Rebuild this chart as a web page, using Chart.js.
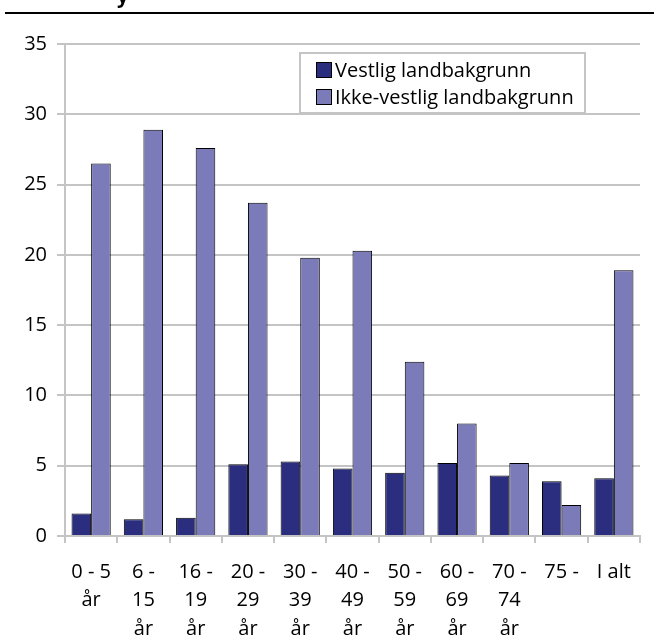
<!DOCTYPE html>
<html>
<head>
<meta charset="utf-8">
<script src="https://cdn.jsdelivr.net/npm/chart.js@4"></script>
<style>
  body{margin:0;background:#fff;width:654px;height:639px;overflow:hidden;position:relative;font-family:"Open Sans",sans-serif}
  #wrap{position:absolute;left:0;top:0;width:654px;height:639px}
  #rule{position:absolute;left:5px;right:0;top:12px;height:2px;background:#000}
  #cut{position:absolute;left:117px;top:-18px;height:20px;line-height:20px;font:bold 20px "Open Sans",sans-serif;color:#000}
</style>
</head>
<body>
<div id="wrap"><canvas id="myChart" width="654" height="639"></canvas></div>
<div id="cut">y</div>
<div id="rule"></div>
<script>
// age groups (multi-line labels as in the original)
const labels=[
  ["0 - 5","år"],
  ["6 -","15","år"],
  ["16 -","19","år"],
  ["20 -","29","år"],
  ["30 -","39","år"],
  ["40 -","49","år"],
  ["50 -","59","år"],
  ["60 -","69","år"],
  ["70 -","74","år"],
  ["75 -"],
  ["I alt"]
]
const vestlig=[1.6,1.2,1.3,5.1,5.3,4.8,4.5,5.2,4.3,3.9,4.1]
const ikkeVestlig=[26.5,28.9,27.6,23.7,19.8,20.3,12.4,8.0,5.2,2.2,18.9]
const seriesNames=["Vestlig landbakgrunn","Ikke-vestlig landbakgrunn"]
const yTicks=[0,5,10,15,20,25,30,35]

const FONT='"Open Sans", sans-serif'
const grey='#c4c4c4'

// legend drawn in a box inside the plot, like the excel original
const boxLegend={
  id:'boxLegend',
  afterDraw(chart){
    const ctx=chart.ctx
    const x=300,y=53,w=285,h=60
    ctx.save()
    ctx.fillStyle='#fff'
    ctx.fillRect(x,y,w,h)
    ctx.strokeStyle=grey
    ctx.lineWidth=2
    ctx.strokeRect(x,y,w,h)
    ctx.font='20px '+FONT
    ctx.textBaseline='middle'
    chart.data.datasets.forEach((ds,i)=>{
      const cy=y+17+i*27
      ctx.fillStyle=ds.backgroundColor
      ctx.fillRect(316.5,cy-7.5,15,15)
      ctx.strokeStyle='#000'
      ctx.lineWidth=1
      ctx.strokeRect(316.5,cy-7.5,15,15)
      ctx.fillStyle='#000'
      ctx.fillText(ds.label,335,cy+1)
    })
    ctx.restore()
  }
}

const ctx=document.getElementById('myChart').getContext('2d')
const chart=new Chart(ctx,{
  type:'bar',
  data:{
    labels:labels,
    datasets:[
      {label:seriesNames[0],data:vestlig,backgroundColor:'#2b2e7e',borderColor:'#000',borderWidth:1},
      {label:seriesNames[1],data:ikkeVestlig,backgroundColor:'#7b7bba',borderColor:'#000',borderWidth:1}
    ]
  },
  options:{
    responsive:false,
    animation:false,
    layout:{padding:{top:44,right:14,left:0,bottom:0}},
    plugins:{legend:{display:false},tooltip:{enabled:false}},
    datasets:{bar:{categoryPercentage:0.75,barPercentage:1}},
    scales:{
      x:{
        grid:{offset:true,drawOnChartArea:false,color:grey,lineWidth:2,tickLength:7},
        border:{color:grey,width:2},
        ticks:{color:'#000',font:{family:FONT,size:20,lineHeight:1.425},padding:15,maxRotation:0,autoSkip:false},
        afterFit(scale){scale.height=103}
      },
      y:{
        min:0,max:35,
        grid:{color:grey,lineWidth:2,tickLength:8},
        border:{color:grey,width:2},
        afterBuildTicks(scale){scale.ticks=yTicks.map(v=>({value:v}))},
        ticks:{color:'#000',font:{family:FONT,size:20},padding:10},
        afterFit(scale){scale.width=65}
      }
    }
  },
  plugins:[boxLegend]
})
</script>
</body>
</html>
